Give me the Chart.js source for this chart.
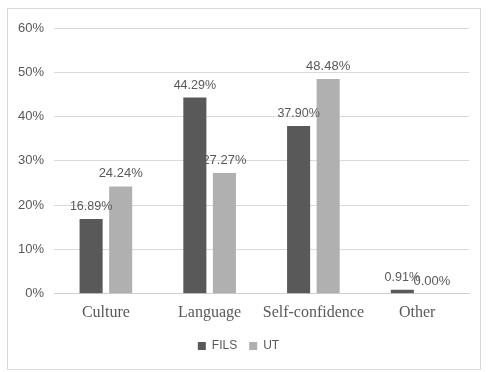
<!DOCTYPE html>
<html>
<head>
<meta charset="utf-8">
<script src="https://cdn.jsdelivr.net/npm/chart.js@4"></script>
<style>
  html, body { margin: 0; padding: 0; background: #fff; }
  #box {
    position: absolute; left: 7px; top: 8px; width: 472px; height: 360px;
    border: 1px solid #d9d9d9; background: #fff;
  }
</style>
</head>
<body>
<div id="box"><canvas id="chart" width="472" height="360"></canvas></div>
<script>
// categories and series (percent)
const categories = ['Culture', 'Language', 'Self-confidence', 'Other'];
const fils = [16.89, 44.29, 37.90, 0.91];
const ut = [24.24, 27.27, 48.48, 0.00];
const yTicks = [0, 10, 20, 30, 40, 50, 60];

// value labels above each bar
const barLabels = {
  id: 'barLabels',
  afterDatasetsDraw(chart) {
    const ctx = chart.ctx;
    ctx.save();
    ctx.fillStyle = '#595959';
    ctx.textAlign = 'center';
    ctx.textBaseline = 'bottom';
    chart.data.datasets.forEach((ds, i) => {
      const meta = chart.getDatasetMeta(i);
      ctx.font = i === 0 ? '12.5px "Liberation Sans"' : '13px "Liberation Sans"';
      meta.data.forEach((bar, j) => {
        ctx.fillText(ds.data[j].toFixed(2) + '%', bar.x, bar.y - 6);
      });
    });
    ctx.restore();
  }
};

new Chart(document.getElementById('chart'), {
  type: 'bar',
  data: {
    labels: categories,
    datasets: [
      { label: 'FILS', data: fils, backgroundColor: '#595959',
        categoryPercentage: 0.57, barPercentage: 0.78 },
      { label: 'UT', data: ut, backgroundColor: '#b0b0b0',
        categoryPercentage: 0.57, barPercentage: 0.78 }
    ]
  },
  options: {
    responsive: false,
    animation: false,
    layout: { padding: { top: 19, right: 11, left: 0, bottom: 7 } },
    scales: {
      y: {
        min: 0, max: 60,
        afterBuildTicks: axis => { axis.ticks = yTicks.map(v => ({ value: v })); },
        ticks: {
          callback: v => v + '%',
          color: '#595959',
          font: { family: 'Liberation Sans', size: 13 },
          padding: 10
        },
        grid: { color: '#d9d9d9', drawTicks: false },
        border: { display: false }
      },
      x: {
        afterFit: axis => { axis.height += 5; },
        ticks: {
          color: '#595959',
          font: { family: 'Liberation Serif', size: 16 },
          padding: 1,
          maxRotation: 0,
          minRotation: 0,
          autoSkip: false
        },
        grid: { display: false },
        border: { color: '#d0d0d0' }
      }
    },
    plugins: {
      legend: {
        position: 'bottom',
        labels: {
          boxWidth: 8, boxHeight: 8, padding: 12,
          color: '#595959',
          font: { family: 'Liberation Sans', size: 12 }
        }
      },
      tooltip: { enabled: false }
    }
  },
  plugins: [barLabels]
});
</script>
</body>
</html>
